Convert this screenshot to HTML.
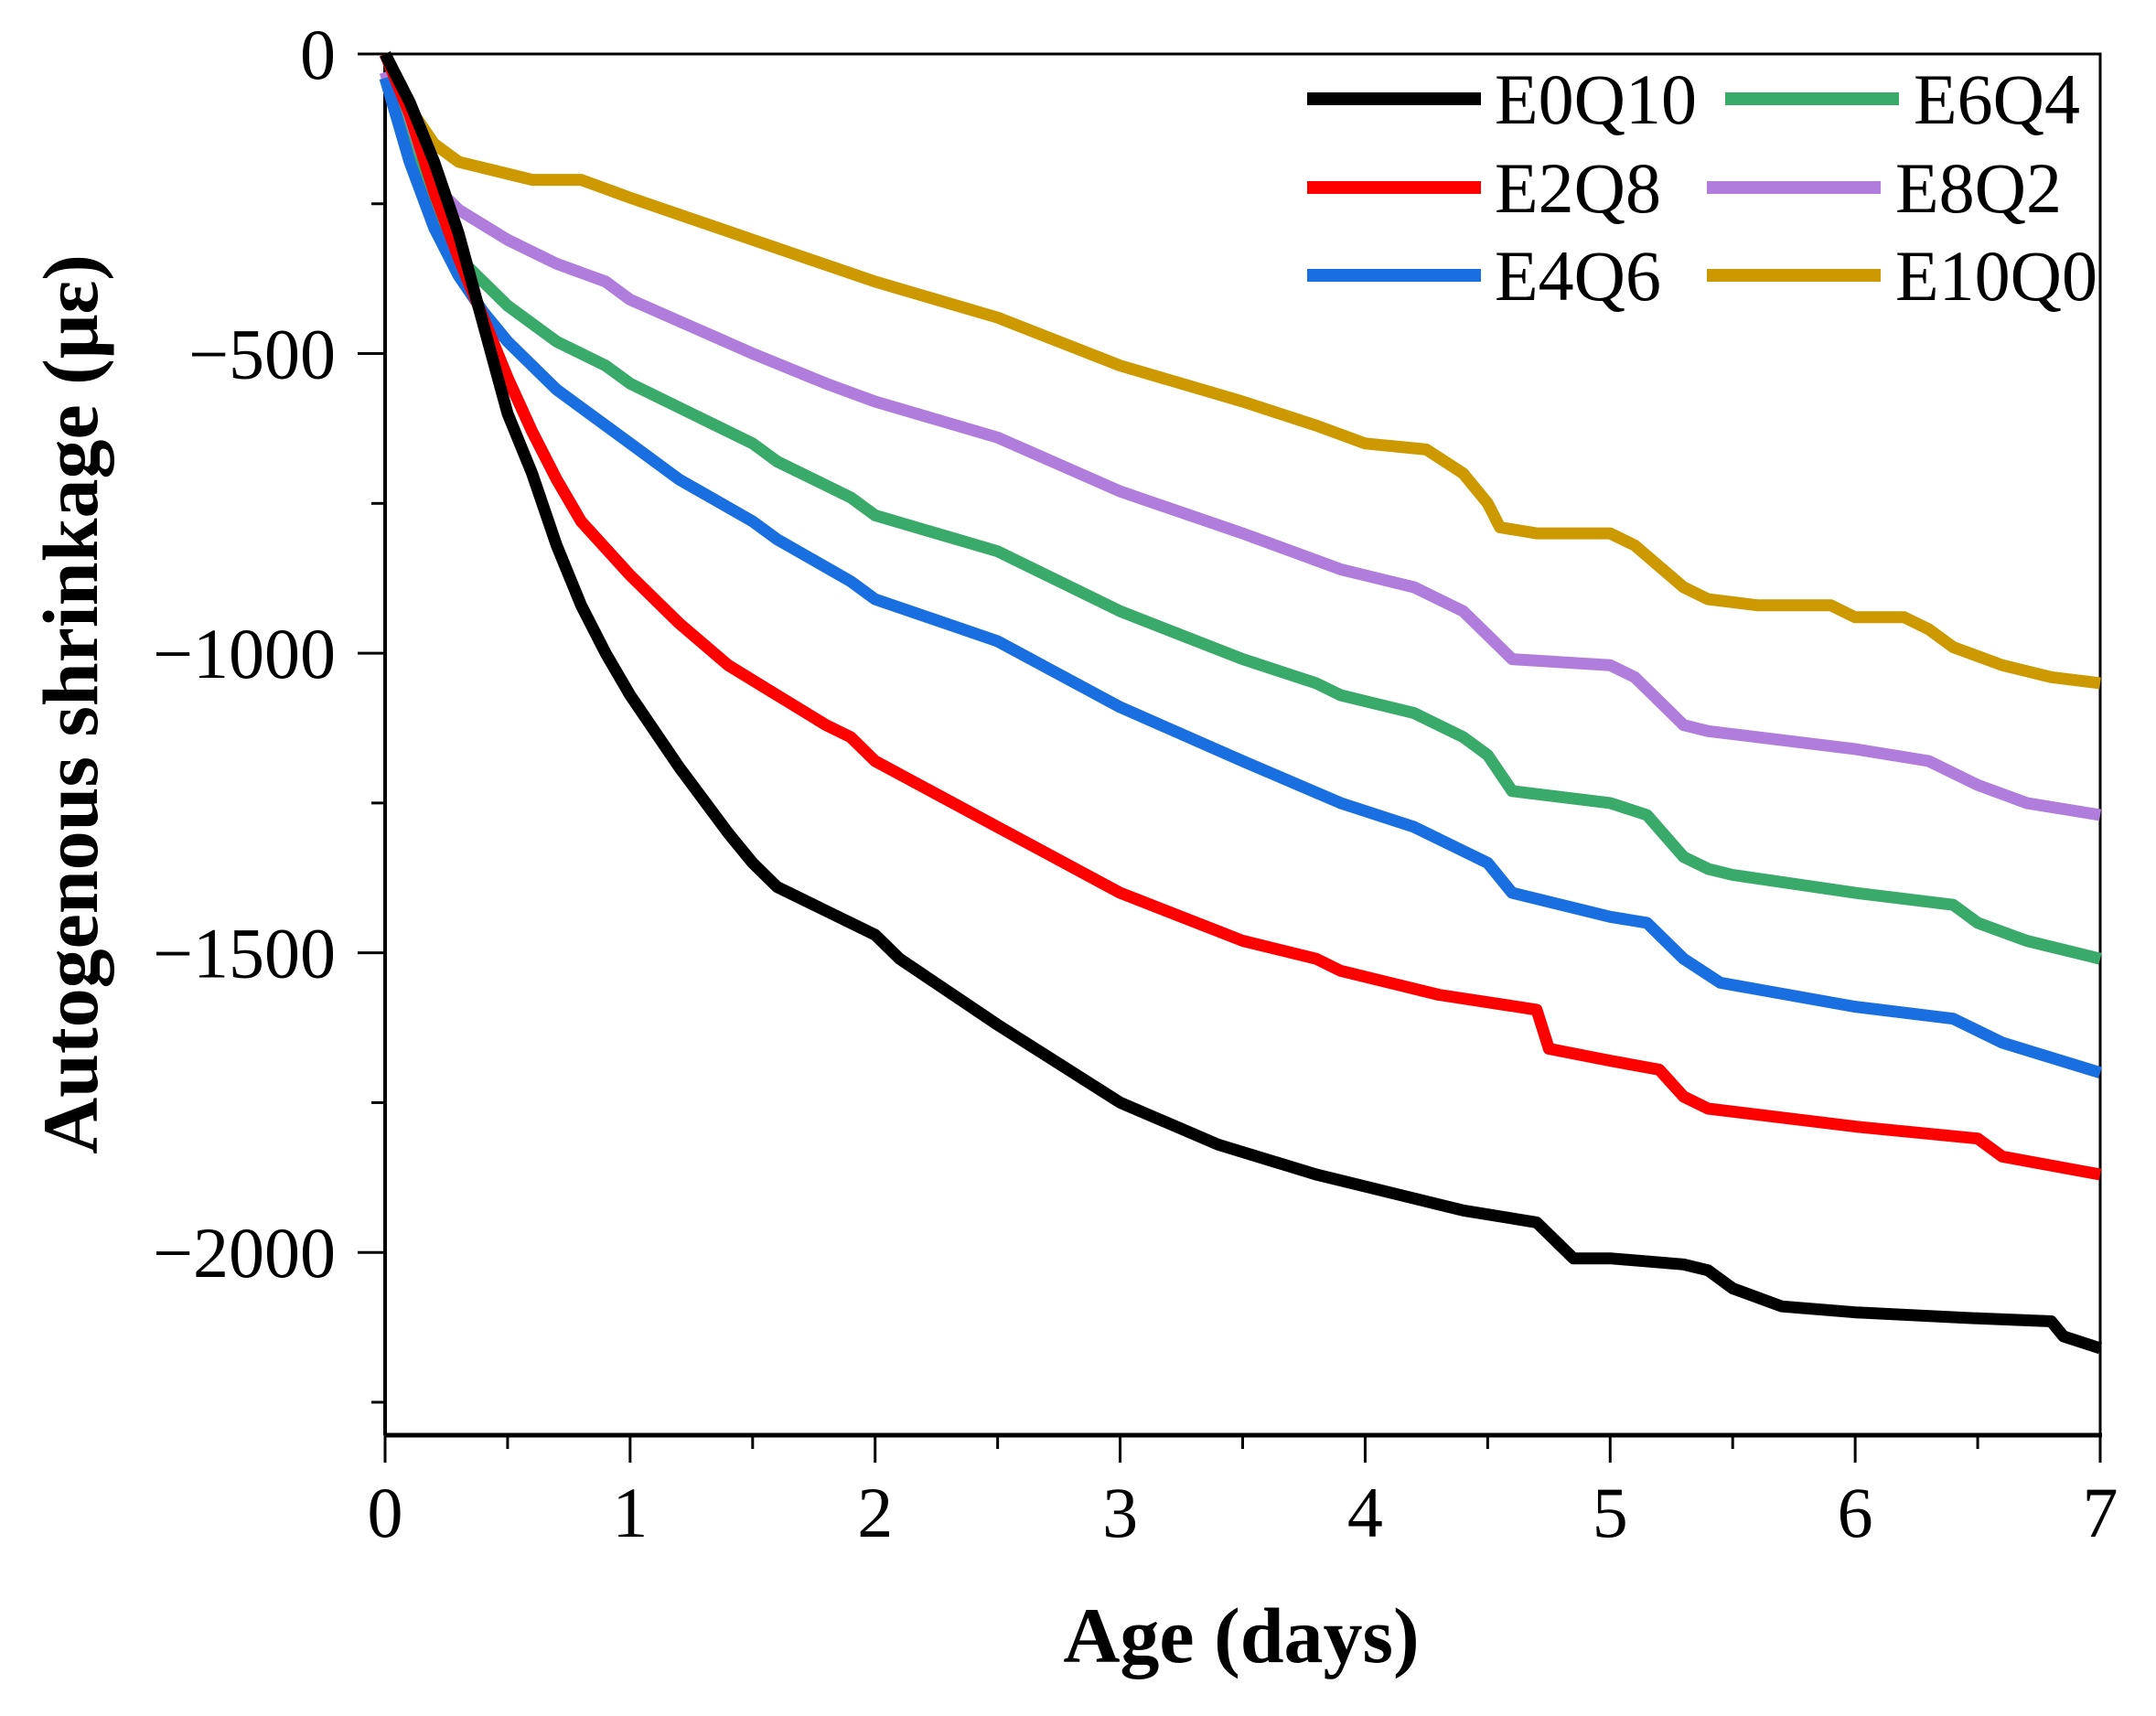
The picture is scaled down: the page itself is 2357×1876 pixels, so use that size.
<!DOCTYPE html>
<html><head><meta charset="utf-8"><style>
html,body{margin:0;padding:0;background:#fff}
svg text{font-family:"Liberation Serif","Times New Roman",serif;fill:#000}
</style></head><body>
<svg id="chart" width="2357" height="1871" viewBox="0 0 2357 1871" xmlns="http://www.w3.org/2000/svg">
<g id="axes"></g>
<g id="series"></g>
<g id="legend"></g>
</svg>
<script>
const xTicks=[0,1,2,3,4,5,6,7];
const yTicks=[0,-500,-1000,-1500,-2000];
const yTickLabels=["0","\u2212500","\u22121000","\u22121500","\u22122000"];
const seriesNames=["E0Q10","E2Q8","E4Q6","E6Q4","E8Q2","E10Q0"];
const seriesColors=["#000000","#ff0000","#1a6fe0","#3aaa6a","#b07ddc","#cc9900"];
const tE0Q10=[0,0.1,0.2,0.3,0.4,0.5,0.6,0.7,0.8,0.9,1.0,1.2,1.4,1.5,1.6,1.8,2.0,2.1,2.5,3.0,3.4,3.8,4.0,4.4,4.7,4.75,4.85,4.9,5.0,5.3,5.4,5.5,5.7,6.0,6.5,6.8,6.85,7.0];
const vE0Q10=[0,-80,-180,-300,-450,-600,-700,-820,-920,-1000,-1070,-1190,-1300,-1350,-1390,-1430,-1470,-1510,-1620,-1750,-1820,-1870,-1890,-1930,-1950,-1970,-2010,-2010,-2010,-2020,-2030,-2060,-2090,-2100,-2110,-2115,-2140,-2160];
const tE2Q8=[0,0.1,0.2,0.3,0.4,0.5,0.6,0.7,0.8,1.0,1.2,1.4,1.6,1.8,1.9,2.0,2.5,3.0,3.5,3.8,3.9,4.3,4.7,4.75,5.0,5.2,5.3,5.4,6.0,6.5,6.6,7.0];
const vE2Q8=[0,-100,-230,-340,-440,-540,-630,-710,-780,-870,-950,-1020,-1070,-1120,-1140,-1180,-1290,-1400,-1480,-1510,-1530,-1570,-1595,-1660,-1680,-1695,-1740,-1760,-1790,-1810,-1840,-1870];
const tE4Q6=[0,0.1,0.2,0.3,0.4,0.5,0.7,1.0,1.2,1.5,1.6,1.9,2.0,2.5,3.0,3.5,3.9,4.2,4.4,4.5,4.6,5.0,5.15,5.3,5.45,6.0,6.4,6.6,7.0];
const vE4Q6=[-40,-180,-290,-370,-430,-480,-560,-650,-710,-780,-810,-880,-910,-980,-1090,-1180,-1250,-1290,-1330,-1350,-1400,-1440,-1450,-1510,-1550,-1590,-1610,-1650,-1700];
const tE6Q4=[0,0.1,0.2,0.3,0.5,0.7,0.9,1.0,1.3,1.5,1.6,1.9,2.0,2.5,3.0,3.5,3.8,3.9,4.2,4.4,4.5,4.6,5.0,5.15,5.3,5.4,5.5,6.0,6.4,6.5,6.7,7.0];
const vE6Q4=[-40,-170,-260,-340,-420,-480,-520,-550,-610,-650,-680,-740,-770,-830,-930,-1010,-1050,-1070,-1100,-1140,-1170,-1230,-1250,-1270,-1340,-1360,-1370,-1400,-1420,-1450,-1480,-1510];
const tE8Q2=[0,0.1,0.2,0.3,0.5,0.7,0.9,1.0,1.5,1.8,2.0,2.5,3.0,3.5,3.9,4.2,4.4,4.5,4.6,5.0,5.1,5.25,5.3,5.4,6.0,6.3,6.5,6.7,7.0];
const vE8Q2=[-30,-150,-220,-260,-310,-350,-380,-410,-500,-550,-580,-640,-730,-800,-860,-890,-930,-970,-1010,-1020,-1040,-1100,-1120,-1130,-1160,-1180,-1220,-1250,-1270];
const tE10Q0=[0,0.1,0.2,0.3,0.5,0.6,0.8,1.0,1.5,2.0,2.5,3.0,3.5,3.8,4.0,4.25,4.4,4.5,4.55,4.7,5.0,5.1,5.3,5.4,5.6,5.9,6.0,6.2,6.3,6.4,6.6,6.8,7.0];
const vE10Q0=[0,-90,-150,-180,-200,-210,-210,-240,-310,-380,-440,-520,-580,-620,-650,-660,-700,-750,-790,-800,-800,-820,-890,-910,-920,-920,-940,-940,-960,-990,-1020,-1040,-1050];
const seriesT=[tE0Q10,tE2Q8,tE4Q6,tE6Q4,tE8Q2,tE10Q0];
const seriesV=[vE0Q10,vE2Q8,vE4Q6,vE6Q4,vE8Q2,vE10Q0];

const NS="http://www.w3.org/2000/svg";
const X0=421,X1=2296,Y0=59,Y1=1569,YMIN=-2305;
function sx(t){return X0+(X1-X0)*t/7;}
function sy(v){return Y0+(Y1-Y0)*(0-v)/(0-YMIN);}
function mk(tag,attrs,parent){const e=document.createElementNS(NS,tag);for(const k in attrs)e.setAttribute(k,attrs[k]);parent.appendChild(e);return e;}
const SERIF='"Liberation Serif","Times New Roman",serif';
const axes=document.getElementById('axes');
let e;
e=mk('rect',{x:X0,y:Y0,width:X1-X0,height:Y1-Y0,fill:'none',stroke:'#000','stroke-width':3},axes);


e=mk('line',{x1:X0,y1:Y1,x2:X1+2,y2:Y1,stroke:'#000','stroke-width':5},axes);


e=mk('line',{x1:X0,y1:Y0,x2:X0,y2:Y1,stroke:'#000','stroke-width':4},axes);


xTicks.forEach(t=>{
  e=mk('line',{x1:sx(t),y1:Y1,x2:sx(t),y2:Y1+30,stroke:'#000','stroke-width':3},axes);
  
  
  if(t<7){e=mk('line',{x1:sx(t+0.5),y1:Y1,x2:sx(t+0.5),y2:Y1+15,stroke:'#000','stroke-width':3},axes);
  
  }
  e=mk('text',{x:sx(t),y:1680,'text-anchor':'middle','font-size':78,'font-family':SERIF},axes);e.textContent=String(t);
  
  
});
yTicks.forEach((v,i)=>{
  e=mk('line',{x1:X0-30,y1:sy(v),x2:X0,y2:sy(v),stroke:'#000','stroke-width':3},axes);
  
  
  e=mk('line',{x1:X0-15,y1:sy(v-250),x2:X0,y2:sy(v-250),stroke:'#000','stroke-width':3},axes);
  
  
  e=mk('text',{x:367,y:sy(v)+27,'text-anchor':'end','font-size':78,'font-family':SERIF},axes);e.textContent=yTickLabels[i];
  
  
});
e=mk('text',{x:1357,y:1817,'text-anchor':'middle','font-size':86,'font-weight':'bold','font-family':SERIF},axes);e.textContent='Age (days)';


e=mk('text',{x:0,y:0,'text-anchor':'middle','font-size':86,'font-weight':'bold','font-family':SERIF,transform:'translate(106,770) rotate(-90)'},axes);e.textContent='Autogenous shrinkage (\u03bc\u03b5)';



const sg=document.getElementById('series');
for(let i=seriesNames.length-1;i>=0;i--){
  const d=seriesT[i].map((t,j)=>(j?'L':'M')+sx(t).toFixed(1)+','+sy(seriesV[i][j]).toFixed(1)).join('');
  e=mk('path',{d:d,fill:'none',stroke:seriesColors[i],'stroke-width':13,'stroke-linejoin':'round'},sg);
  
  
}
const lg=document.getElementById('legend');
const legX=[[1429,1619,1634],[1429,1619,1634],[1429,1619,1634],[1886,2076,2092],[1866,2056,2072],[1866,2056,2072]];
const legY=[108,205,301,108,205,301];
const order=[0,1,2,3,4,5];
order.forEach((i,k)=>{
  e=mk('line',{x1:legX[k][0],y1:legY[k],x2:legX[k][1],y2:legY[k],stroke:seriesColors[i],'stroke-width':14},lg);
  
  
  e=mk('text',{x:legX[k][2],y:legY[k]+27,'font-size':78,'font-family':SERIF},lg);e.textContent=seriesNames[i];
  
  
});
</script>
</body></html>
